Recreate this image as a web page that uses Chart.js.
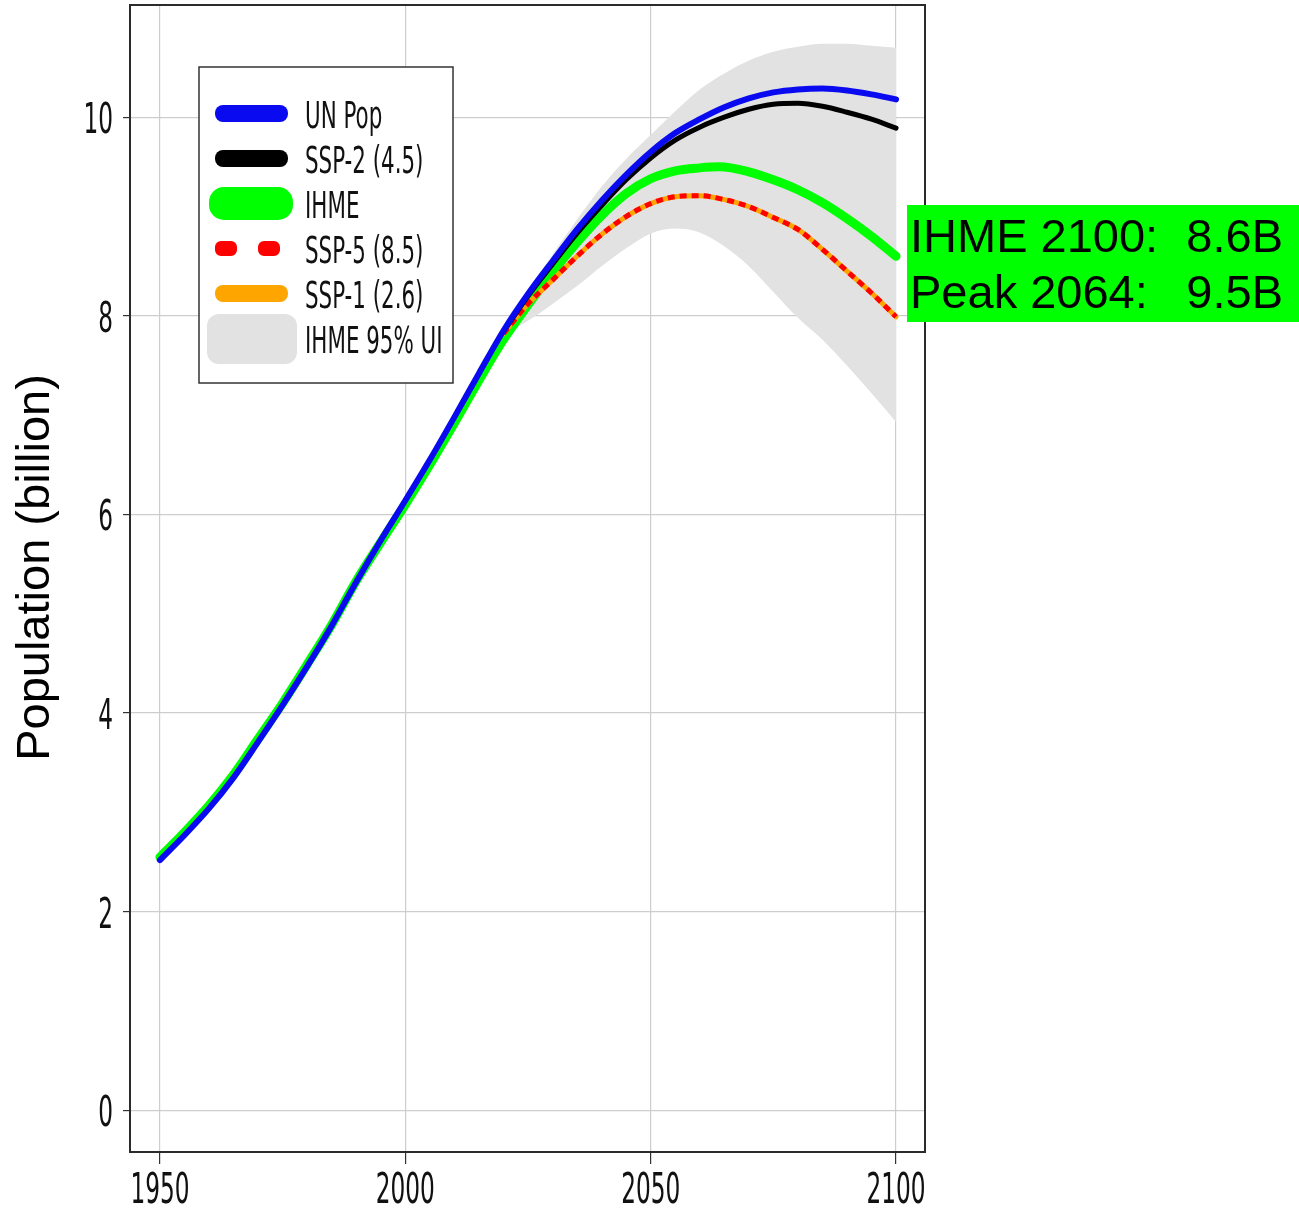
<!DOCTYPE html>
<html>
<head>
<meta charset="utf-8">
<title>Population projections</title>
<script src="https://cdn.jsdelivr.net/npm/chart.js@4/dist/chart.umd.min.js"></script>
<style>
  html, body { margin: 0; padding: 0; background: #fff; }
  canvas { display: block; }
</style>
</head>
<body>
<canvas id="popChart" width="1299" height="1209"></canvas>
<script>
// years and values (billions)
const unYears = [1950, 1955, 1960, 1965, 1970, 1975, 1980, 1985, 1990, 1995, 2000, 2005, 2010, 2015, 2020,
                 2025, 2030, 2035, 2040, 2045, 2050, 2055, 2060, 2065, 2070, 2075, 2080, 2085, 2090, 2095, 2100];
const unPop = [2.52, 2.77, 3.04, 3.35, 3.71, 4.08, 4.47, 4.88, 5.32, 5.74, 6.14, 6.55, 6.98, 7.42, 7.85,
               8.22, 8.55, 8.87, 9.16, 9.42, 9.65, 9.84, 9.98, 10.10, 10.19, 10.25, 10.28, 10.29, 10.27, 10.23, 10.18];

const ihmeYears = [1950, 1955, 1960, 1965, 1970, 1975, 1980, 1985, 1990, 1995, 2000, 2005, 2010, 2015, 2020,
                   2025, 2030, 2035, 2040, 2045, 2050, 2055, 2060, 2064, 2070, 2075, 2080, 2085, 2090, 2095, 2100];
const ihme = [2.55, 2.80, 3.07, 3.38, 3.74, 4.10, 4.49, 4.89, 5.33, 5.72, 6.10, 6.50, 6.92, 7.35, 7.76,
              8.11, 8.44, 8.74, 9.01, 9.23, 9.38, 9.46, 9.49, 9.50, 9.45, 9.37, 9.27, 9.14, 8.98, 8.80, 8.60];

const sspYears = [2020, 2025, 2030, 2035, 2040, 2045, 2050, 2055, 2060, 2065, 2070, 2075, 2080, 2085, 2090, 2095, 2100];
const ssp2 = [7.84, 8.20, 8.52, 8.83, 9.11, 9.37, 9.59, 9.77, 9.90, 10.00, 10.08, 10.13, 10.14, 10.11, 10.05, 9.98, 9.89];
const ssp5 = [7.82, 8.12, 8.36, 8.60, 8.82, 9.00, 9.13, 9.20, 9.21, 9.17, 9.10, 8.99, 8.87, 8.67, 8.45, 8.23, 7.99];
const ssp1 = [7.82, 8.12, 8.36, 8.60, 8.82, 9.00, 9.13, 9.20, 9.21, 9.17, 9.10, 8.99, 8.87, 8.67, 8.45, 8.23, 7.99];

// IHME 95% uncertainty interval
const uiUpper = [7.86, 8.25, 8.62, 8.97, 9.30, 9.58, 9.82, 10.06, 10.28, 10.44, 10.57, 10.66, 10.71, 10.74, 10.74, 10.72, 10.70];
const uiLower = [7.80, 7.95, 8.12, 8.30, 8.50, 8.68, 8.83, 8.88, 8.84, 8.70, 8.50, 8.24, 7.98, 7.76, 7.50, 7.22, 6.93];

const xTicks = [1950, 2000, 2050, 2100];
const yTicks = [0, 2, 4, 6, 8, 10];
const yTitle = 'Population (billion)';
const noteLines = [['IHME 2100:', '8.6B'], ['Peak 2064:', '9.5B']];

const NARROW = "'Liberation Sans Narrow', 'Arial Narrow', 'DejaVu Sans Condensed', sans-serif";
const ARIAL = "'Liberation Sans', Arial, sans-serif";

function pts(xs, ys) {
    return xs.map((x, i) => ({ x: x, y: ys[i] }));
}

const BLUE = '#0a0af0';
const GREEN = '#00ff00';
const ORANGE = '#ffa500';
const RED = '#ff0000';
const GREY = '#e2e2e2';

// datasets listed top-most first (index 0 is drawn last)
const datasets = [
    { label: 'UN Pop', data: pts(unYears, unPop), borderColor: BLUE, borderWidth: 6 },
    { label: 'SSP-2 (4.5)', data: pts(sspYears, ssp2), borderColor: '#000', borderWidth: 5 },
    { label: 'SSP-5 (8.5)', data: pts(sspYears, ssp5), borderColor: RED, borderWidth: 5, borderDash: [7, 5] },
    { label: 'SSP-1 (2.6)', data: pts(sspYears, ssp1), borderColor: ORANGE, borderWidth: 5 },
    { label: 'IHME', data: pts(ihmeYears, ihme), borderColor: GREEN, borderWidth: 9 },
    { label: 'IHME 95% UI', data: pts(sspYears, uiUpper), borderColor: 'rgba(0,0,0,0)', borderWidth: 0,
      backgroundColor: GREY, fill: '+1' },
    { label: 'UI lower', data: pts(sspYears, uiLower), borderColor: 'rgba(0,0,0,0)', borderWidth: 0, fill: false }
];
datasets.forEach(d => {
    d.pointRadius = 0;
    d.cubicInterpolationMode = 'monotone';
    d.borderCapStyle = d.borderDash ? 'butt' : 'round';
});

// legend rows, in display order
const legendOrder = ['UN Pop', 'SSP-2 (4.5)', 'IHME', 'SSP-5 (8.5)', 'SSP-1 (2.6)', 'IHME 95% UI'];

function drawSwatch(ctx, label, x, cy) {
    ctx.save();
    ctx.beginPath();
    if (label === 'UN Pop' || label === 'SSP-2 (4.5)' || label === 'SSP-1 (2.6)') {
        ctx.fillStyle = label === 'UN Pop' ? BLUE : (label === 'SSP-2 (4.5)' ? '#000' : ORANGE);
        ctx.roundRect(x + 16, cy - 8, 73, 17, 8);
    } else if (label === 'IHME') {
        ctx.fillStyle = GREEN;
        ctx.roundRect(x + 10, cy - 16, 84, 33, 15);
    } else if (label === 'SSP-5 (8.5)') {
        ctx.fillStyle = RED;
        ctx.roundRect(x + 16, cy - 7, 22, 15, 6);
        ctx.roundRect(x + 59, cy - 7, 22, 15, 6);
    } else {
        ctx.fillStyle = GREY;
        ctx.roundRect(x + 8, cy - 24, 90, 50, 12);
    }
    ctx.fill();
    ctx.restore();
}

// tall, condensed text like the axis labels of the original plot
function tallText(ctx, text, x, y, align, size, sx, sy) {
    ctx.save();
    ctx.translate(x, y);
    ctx.scale(sx, sy);
    ctx.font = size + 'px ' + NARROW;
    ctx.textAlign = align;
    ctx.textBaseline = 'alphabetic';
    ctx.fillStyle = '#111';
    ctx.fillText(text, 0, 0);
    ctx.restore();
}

const decorations = {
    id: 'decorations',
    afterDraw(chart) {
        const ctx = chart.ctx;
        const a = chart.chartArea;
        const xs = chart.scales.x, ys = chart.scales.y;

        // frame
        ctx.save();
        ctx.strokeStyle = '#2b2b2b';
        ctx.lineWidth = 2;
        ctx.strokeRect(a.left, a.top, a.right - a.left, a.bottom - a.top);
        ctx.restore();

        // tick labels
        xTicks.forEach(v => tallText(ctx, String(v), xs.getPixelForValue(v), a.bottom + 51, 'center', 30, 0.86, 1.4));
        yTicks.forEach(v => tallText(ctx, String(v), a.left - 17, ys.getPixelForValue(v) + 16, 'right', 30, 0.86, 1.4));

        // y title
        ctx.save();
        ctx.translate(49, (a.top + a.bottom) / 2 - 11);
        ctx.rotate(-Math.PI / 2);
        ctx.font = '47px ' + ARIAL;
        ctx.textAlign = 'center';
        ctx.fillStyle = '#000';
        ctx.fillText(yTitle, 0, 0);
        ctx.restore();

        // legend box
        const lx = a.left + 69, ly = a.top + 62;
        ctx.save();
        ctx.fillStyle = '#fff';
        ctx.fillRect(lx, ly, 254, 316);
        ctx.strokeStyle = '#333';
        ctx.lineWidth = 1.5;
        ctx.strokeRect(lx, ly, 254, 316);
        ctx.restore();
        legendOrder.forEach((label, i) => {
            const cy = ly + 46 + i * 45;
            drawSwatch(ctx, label, lx, cy);
            tallText(ctx, label, lx + 106, cy + 15, 'left', 28, 0.85, 1.3);
        });

        // IHME note
        const bx = a.right - 18;
        ctx.save();
        ctx.fillStyle = GREEN;
        ctx.fillRect(bx, 205, chart.width - bx, 117);
        ctx.font = '47px ' + ARIAL;
        ctx.fillStyle = '#000';
        noteLines.forEach((ln, i) => {
            const by = 252 + i * 56;
            ctx.textAlign = 'left';
            ctx.fillText(ln[0], bx + 3, by);
            ctx.textAlign = 'right';
            ctx.fillText(ln[1], 1283, by);
        });
        ctx.restore();
    }
};

new Chart(document.getElementById('popChart'), {
    type: 'line',
    data: { datasets: datasets },
    options: {
        responsive: false,
        animation: false,
        devicePixelRatio: 1,
        layout: { padding: { left: 123, top: 5, right: 374, bottom: 45 }, autoPadding: false },
        plugins: { legend: { display: false }, tooltip: { enabled: false } },
        scales: {
            x: {
                type: 'linear', min: 1943.9, max: 2105.9,
                afterBuildTicks: s => { s.ticks = xTicks.map(v => ({ value: v })); },
                ticks: { display: false },
                grid: { color: '#cdcdcd', tickColor: '#333', tickLength: 12, lineWidth: 1.2 },
                border: { display: false }
            },
            y: {
                type: 'linear', min: -0.42, max: 11.13,
                afterBuildTicks: s => { s.ticks = yTicks.map(v => ({ value: v })); },
                ticks: { display: false },
                grid: { color: '#cdcdcd', tickColor: '#333', tickLength: 7, lineWidth: 1.2 },
                border: { display: false }
            }
        }
    },
    plugins: [decorations]
});
</script>
</body>
</html>
